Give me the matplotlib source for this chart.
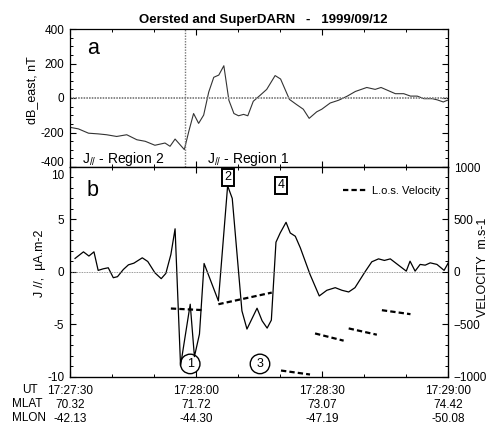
import matplotlib
matplotlib.use("Agg")
import matplotlib.pyplot as plt
from matplotlib.ticker import MultipleLocator, FixedLocator, FuncFormatter

plt.rcParams['font.family'] = ['Liberation Sans', 'DejaVu Sans']
plt.rcParams['mathtext.fontset'] = 'custom'
plt.rcParams['mathtext.rm'] = 'Liberation Sans'
plt.rcParams['mathtext.default'] = 'regular'

# ---- data (time in seconds after 17:27:30 UT) ----
t_a = [0, 2.0, 4.4, 6.7, 8.7, 11.1, 13.5, 15.9, 17.9, 20.2, 22.6, 23.8, 25.0, 27.2, 28.3,
       29.4, 30.6, 31.8, 33.0, 34.2, 35.4, 36.6, 37.8, 39.0, 40.1, 41.3, 42.3, 43.6, 45.2,
       46.8, 48.8, 50.1, 52.2, 53.9, 55.5, 56.9, 58.7, 59.9, 61.9, 63.9, 65.9, 67.9, 70.6,
       72.6, 74.0, 75.8, 77.4, 79.4, 81.0, 82.6, 84.2, 86.2, 87.4, 88.8, 89.8]
db_east = [-170, -179, -204, -208, -213, -223, -213, -242, -251, -274, -261, -280, -238, -299,
           -190, -90, -147, -99, 34, 120, 133, 187, -13, -90, -103, -95, -103, -19, 15, 50,
           130, 110, -8, -38, -65, -118, -80, -65, -29, -13, 10, 38, 61, 50, 61, 42, 25, 25,
           11, 11, -4, -4, -11, -23, -13]

t_j = [1.2, 3.2, 4.5, 5.7, 6.7, 7.9, 9.1, 10.3, 11.3, 12.7, 13.9, 15.2, 17.2, 18.5, 20.2,
       21.7, 22.8, 24.0, 25.0, 26.3, 28.6, 29.6, 30.8, 31.9, 35.3, 37.5, 38.6, 40.9, 42.1,
       44.5, 45.7, 46.9, 47.9, 49.0, 50.0, 51.4, 52.4, 53.6, 54.8, 57.1, 59.3, 61.1, 63.1,
       64.7, 66.3, 67.8, 70.2, 71.8, 73.4, 74.8, 76.2, 80.0, 80.9, 82.1, 83.3, 84.5, 85.7,
       87.3, 89.0, 90.0]
j_par = [1.27, 1.9, 1.5, 1.9, 0.13, 0.28, 0.38, -0.57, -0.47, 0.22, 0.66, 0.82, 1.33, 0.98,
         -0.1, -0.66, -0.16, 1.65, 4.1, -8.96, -3.1, -8.1, -5.95, 0.79, -2.78, 8.2, 7.0,
         -3.73, -5.47, -3.48, -4.68, -5.38, -4.62, 2.82, 3.7, 4.72, 3.7, 3.39, 2.28, -0.25,
         -2.31, -1.77, -1.52, -1.77, -1.93, -1.52, 0, 0.95, 1.23, 1.08, 1.23, 0.06, 1.01,
         0.06, 0.7, 0.63, 0.85, 0.7, 0.13, 0.85]

# line-of-sight velocity segments (start/end time, start/end velocity)
v_t0 = [24.0, 35.3, 50.2, 58.3, 66.3, 74.2]
v_t1 = [32.0, 48.0, 57.1, 65.1, 73.0, 81.0]
v_v0 = [-351, -310, -943, -589, -541, -367]
v_v1 = [-367, -199, -981, -658, -601, -405]

boundary_t = 27.3

tick_t = [0, 30, 60, 90]
ut_labels = ["17:27:30", "17:28:00", "17:28:30", "17:29:00"]
mlat_labels = ["70.32", "71.72", "73.07", "74.42"]
mlon_labels = ["-42.13", "-44.30", "-47.19", "-50.08"]

# annotations: (label, time, J value)
box_labels = ["2", "4"]
box_t = [37.5, 50.2]
box_j = [9.0, 8.25]
circ_labels = ["1", "3"]
circ_t = [28.6, 45.2]
circ_j = [-8.8, -8.8]

# ---- figure ----
W, H = 490, 424
fig = plt.figure(figsize=(W / 100, H / 100), dpi=100)

def fx(px):
    return px / W

def fy(py):
    return 1 - py / H

L, R = 70, 448.3
axa = fig.add_axes([fx(L), fy(167), fx(R - L), (167 - 29) / H])
axb = fig.add_axes([fx(L), fy(376.5), fx(R - L), (376.5 - 167) / H])

for ax in (axa, axb):
    ax.set_xlim(0, 90)
    ax.xaxis.set_major_locator(MultipleLocator(30))
    ax.xaxis.set_minor_locator(MultipleLocator(10))
    ax.tick_params(which='both', direction='in', top=True, labelsize=8.5, pad=4)
    ax.tick_params(which='major', length=4.5, width=0.8)
    ax.tick_params(which='minor', length=2.5, width=0.7)
    for s in ax.spines.values():
        s.set_linewidth(0.9)

def skip(val):
    return FuncFormatter(lambda v, p: "" if abs(v - val) < 1e-6 else f"{v:g}")

# panel a
axa.plot(t_a, db_east, color='#333333', lw=0.8)
axa.axhline(0, color='#888888', lw=1.4, ls=(0, (0.8, 0.6)))
axa.axvline(boundary_t, color='#777777', lw=1.0, ls=(0, (1, 1)))
axa.set_ylim(-400, 400)
axa.yaxis.set_major_locator(MultipleLocator(200))
axa.yaxis.set_minor_locator(MultipleLocator(50))
axa.yaxis.set_major_formatter(skip(-400))
axa.tick_params(axis='y', which='both', right=True)
axa.tick_params(labelbottom=False)
axa.text((64 - L) / (R - L), -374, "-400", transform=axa.get_yaxis_transform(),
         ha='right', va='center', fontsize=8.5)
axa.set_ylabel("dB_east, nT", fontsize=9)
axa.yaxis.set_label_coords((38 - L) / (R - L), 0.56)
axa.text(0.045, 0.86, "a", transform=axa.transAxes, fontsize=15.5, va='center')
axa.text(0.032, 0.03, r"J$_{//}$ - Region 2", transform=axa.transAxes, fontsize=10)
axa.text((207 - L) / (R - L), 0.03, r"J$_{//}$ - Region 1", transform=axa.transAxes, fontsize=10)

fig.text(0.537, fy(20), "Oersted and SuperDARN   -   1999/09/12", ha='center', va='center',
         fontsize=9.5, fontweight='bold')

# panel b
axb.plot(t_j, j_par, color='black', lw=0.9)
axb.axhline(0, color='#777777', lw=0.6, ls=(0, (1, 1)))
axb.set_ylim(-10, 10)
axb.yaxis.set_major_locator(MultipleLocator(5))
axb.yaxis.set_minor_locator(MultipleLocator(1))
axb.yaxis.set_major_formatter(skip(10))
axb.text((64 - L) / (R - L), 9.15, "10", transform=axb.get_yaxis_transform(),
         ha='right', va='center', fontsize=8.5)
axb.set_ylabel("J //,  µA.m-2", fontsize=9)
axb.yaxis.set_label_coords((46 - L) / (R - L), 0.54)
axb.text(0.045, 0.89, "b", transform=axb.transAxes, fontsize=15.5, va='center')

axb.xaxis.set_major_locator(FixedLocator(tick_t))
axb.set_xticklabels([f"{u}\n{a}\n{o}" for u, a, o in zip(ut_labels, mlat_labels, mlon_labels)],
                    linespacing=1.25)
axb.tick_params(axis='x', labelsize=8.5, pad=6)

axv = axb.twinx()
axv.set_ylim(-1000, 1000)
axv.yaxis.set_major_locator(MultipleLocator(500))
axv.yaxis.set_minor_locator(MultipleLocator(100))
axv.tick_params(which='both', direction='in', labelsize=8.5, pad=4)
axv.tick_params(which='major', length=4.5, width=0.8)
axv.tick_params(which='minor', length=2.5, width=0.7)
axv.set_ylabel("VELOCITY  m.s-1", fontsize=9, rotation=90)
axv.yaxis.set_label_coords((477 - L) / (R - L), 0.52)
for i, (a0, a1, b0, b1) in enumerate(zip(v_t0, v_t1, v_v0, v_v1)):
    axv.plot([a0, a1], [b0, b1], color='black', lw=1.6, dashes=(2.4, 1.4),
             label="L.o.s. Velocity" if i == 0 else None)
axv.legend(loc='upper right', frameon=False, fontsize=8, handlelength=2.2,
           handletextpad=0.4, bbox_to_anchor=(1.0, 0.945), borderaxespad=0.3)

for lab, tt, jj in zip(box_labels, box_t, box_j):
    axb.text(tt, jj, lab, ha='center', va='center', fontsize=9,
             bbox=dict(boxstyle='square,pad=0.2', fc='white', ec='black', lw=1.4))
for lab, tt, jj in zip(circ_labels, circ_t, circ_j):
    axb.text(tt, jj, lab, ha='center', va='center', fontsize=9,
             bbox=dict(boxstyle='circle,pad=0.3', fc='none', ec='black', lw=1.0))

fig.text(fx(22), fy(390), "UT", fontsize=8.5, va='center')
fig.text(fx(12), fy(404), "MLAT", fontsize=8.5, va='center')
fig.text(fx(12), fy(418), "MLON", fontsize=8.5, va='center')

fig.savefig("out.png", dpi=100)
